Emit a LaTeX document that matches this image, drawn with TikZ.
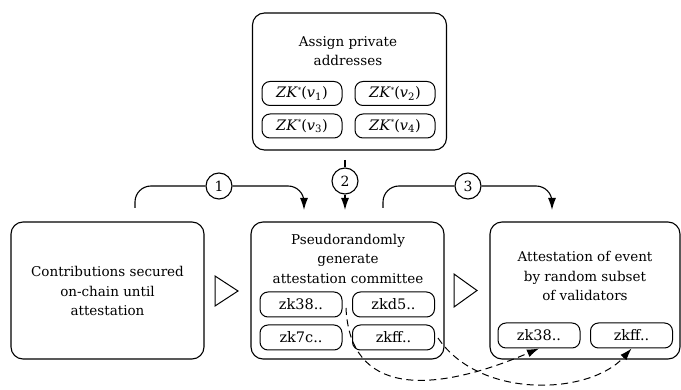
\documentclass[tikz,border=0pt]{standalone}
\usepackage{fontspec}
\setmainfont{DejaVu Serif}
\usetikzlibrary{arrows.meta}
\tikzset{
  bigbox/.style={draw, line width=1.1pt, rounded corners=12pt, minimum width=#1, minimum height=137pt, inner sep=0pt},
  smallbox/.style={draw, line width=1pt, rounded corners=8pt, minimum width=82pt, minimum height=25pt, inner sep=0pt, font=\fontsize{14.5}{16}\selectfont},
  label/.style={align=center, font=\fontsize{13.5}{19.5}\selectfont},
  numc/.style={draw, circle, line width=1.1pt, minimum size=26pt, inner sep=0pt, fill=white, font=\fontsize{14}{15}\selectfont},
  conn/.style={line width=1.1pt, rounded corners=16pt},
  tip/.style={-{Latex[length=12pt,width=8pt]}},
  dconn/.style={line width=1pt, dash pattern=on 7pt off 4.5pt, -{Latex[length=12pt,width=8pt]}},
  tri/.style={draw, line width=1pt}
}
\newcommand{\zkv}[1]{\textit{ZK}\raisebox{0.7ex}{\scriptsize *}(\textit{v}\textsubscript{#1})}
\begin{document}
\begin{tikzpicture}[x=1pt,y=-1pt]
\useasboundingbox (0,0) rectangle (681,390);
% top box
\node[bigbox=194pt, minimum height=137pt] (top) at (349.5,81.5) {};
\node[label] (toptxt) at (348,51) {Assign private\\addresses};
\node[smallbox, minimum width=80pt, minimum height=24pt] (v1) at (302,93.5) {\zkv{1}};
\node[smallbox, minimum width=80pt, minimum height=24pt] (v2) at (395,93.5) {\zkv{2}};
\node[smallbox, minimum width=80pt, minimum height=24pt] (v3) at (302,126) {\zkv{3}};
\node[smallbox, minimum width=80pt, minimum height=24pt] (v4) at (395,126) {\zkv{4}};
% left box
\node[bigbox=193pt] (left) at (107.5,290.5) {};
\node[label] (lefttxt) at (107.5,291) {Contributions secured\\on-chain until\\attestation};
% middle box
\node[bigbox=193pt] (mid) at (347.5,290.5) {};
\node[label] (midtxt) at (348,258.5) {Pseudorandomly\\generate\\attestation committee};
\node[smallbox] (m1) at (301,304.5) {zk38..};
\node[smallbox] (m2) at (393.5,304.5) {zkd5..};
\node[smallbox] (m3) at (301,337.5) {zk7c..};
\node[smallbox] (m4) at (393.5,337.5) {zkff..};
% right box
\node[bigbox=190pt] (right) at (585,290.5) {};
\node[label] (righttxt) at (585,276) {Attestation of event\\by random subset\\of validators};
\node[smallbox] (r1) at (539,335.5) {zk38..};
\node[smallbox] (r2) at (631.5,335.5) {zkff..};
% triangles
\draw[tri] (215,276) -- (238,291) -- (215,306) -- cycle;
\draw[tri] (454,274) -- (477,290.5) -- (454,307) -- cycle;
% connectors
\coordinate (s1) at (135,208);
\coordinate (e1) at (304,210);
\node[numc] (c1) at (219,186) {1};
\draw[conn] (s1) |- (c1);
\draw[conn, tip] (c1) -| (e1);
\coordinate (s2) at (345,160);
\coordinate (e2) at (345,210);
\node[numc] (c2) at (345,181) {2};
\draw[line width=1.1pt] (s2) -- (c2);
\draw[line width=1.1pt, tip] (c2) -- (e2);
\coordinate (s3) at (383,208);
\coordinate (e3) at (552,210);
\node[numc] (c3) at (468,186) {3};
\draw[conn] (s3) |- (c3);
\draw[conn, tip] (c3) -| (e3);
% dashed
\coordinate (d1s) at (346,308);
\coordinate (d2s) at (438,338);
\draw[dconn] (d1s) .. controls (350,395) and (430,395) .. (r1.south);
\draw[dconn] (d2s) .. controls (480,400) and (590,395) .. (r2.south);
\end{tikzpicture}
\end{document}
